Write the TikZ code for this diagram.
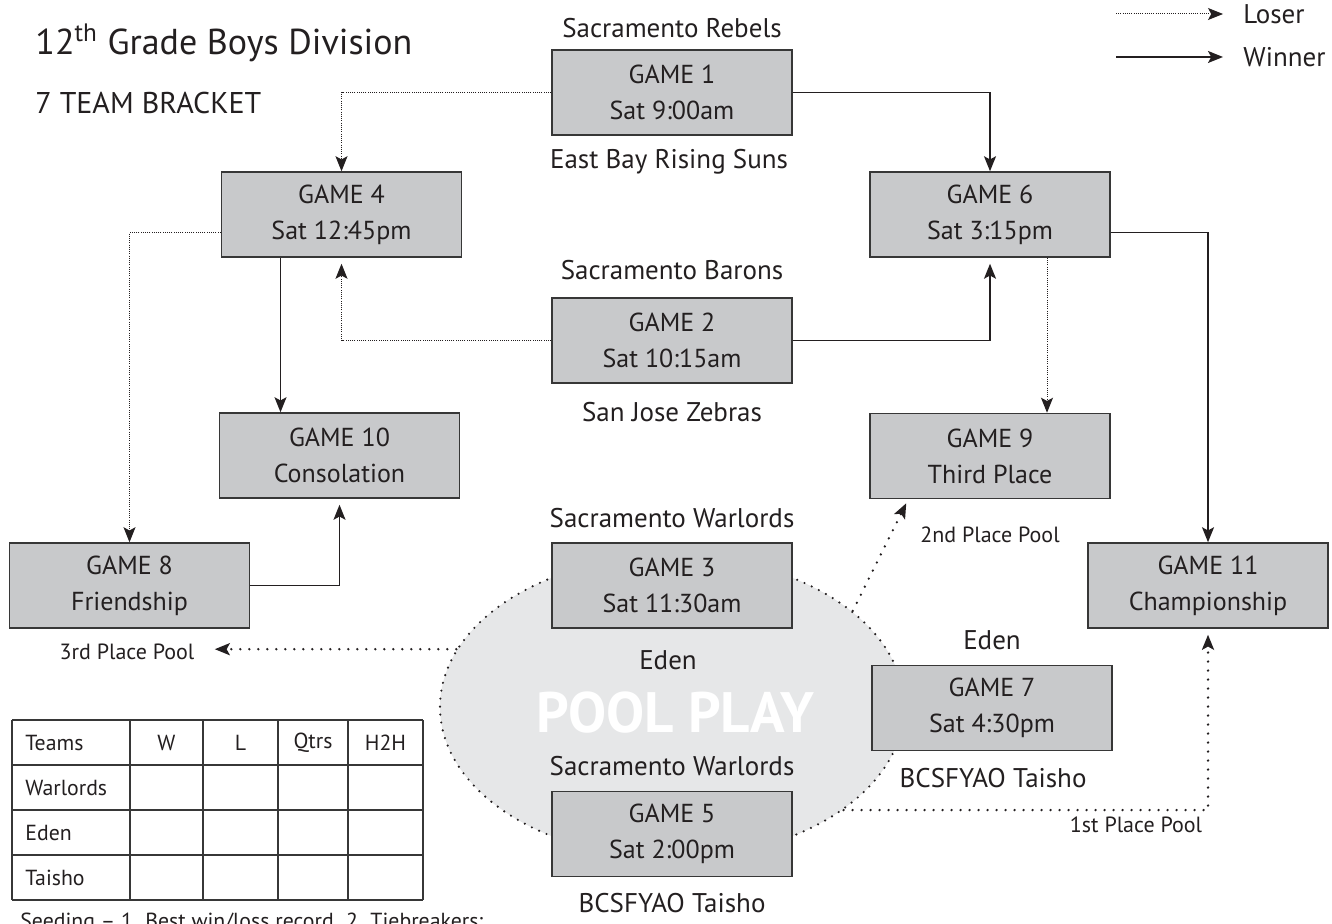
\documentclass[tikz,border=0pt]{standalone}
\usepackage{fontspec}
\setmainfont{PT Sans}
\usetikzlibrary{shapes,arrows.meta,calc}

\definecolor{ink}{RGB}{35,31,32}
\definecolor{boxfill}{RGB}{200,201,203}
\definecolor{boxline}{RGB}{55,55,55}
\definecolor{poolfill}{RGB}{230,231,232}

\tikzset{
    game/.style={draw=boxline, fill=boxfill, line width=0.75pt, minimum width=120pt,
        minimum height=42.5pt, inner sep=0pt, align=center, text=ink,
        font=\fontsize{13}{18}\selectfont},
    team/.style={inner sep=0pt, text=ink, font=\fontsize{13.5}{16}\selectfont},
    note/.style={inner sep=0pt, text=ink, font=\fontsize{11}{13}\selectfont},
    cell/.style={inner sep=0pt, text=ink, font=\fontsize{10.9}{13}\selectfont},
    tip/.style={-{Stealth[length=7.5pt,width=6pt,inset=1.6pt]}},
    winner/.style={tip, draw=ink, line width=0.75pt},
    loser/.style={tip, draw=ink, line width=0.5pt, dash pattern=on 0.5pt off 0.6pt},
    pooldot/.style={tip, draw=ink, line width=1.3pt, line cap=round, dash pattern=on 0pt off 4.5pt}
}

\begin{document}
\begin{tikzpicture}[x=0.5pt, y=-0.5pt]
    \useasboundingbox (0,0) rectangle (1332,924);
    \clip (0,0) rectangle (1332,924);

    % Pool play area
    \node[ellipse, fill=poolfill, draw=ink, line width=1.2pt, line cap=round,
        dash pattern=on 0pt off 4pt, minimum width=232pt, minimum height=151pt,
        inner sep=0pt] (pool) at (672,707) {};
    \node[text=white, font=\fontsize{28.5}{32}\bfseries] (poolplay) at (675,713) {POOL PLAY};

    % Title
    \node[anchor=west, inner sep=0pt, text=ink, font=\fontsize{18}{22}\selectfont] (title) at (35,43) {12\textsuperscript{th} Grade Boys Division};
    \node[anchor=west, inner sep=0pt, text=ink, font=\fontsize{15}{18}\selectfont] (subtitle) at (35,103) {7 TEAM BRACKET};

    % Legend
    \node[team, anchor=west] (loserlbl) at (1243,14) {Loser};
    \node[team, anchor=west] (winnerlbl) at (1243,57) {Winner};
    \coordinate (lgl) at (1116,14);
    \coordinate (lgw) at (1116,57);
    \draw[loser, shorten >=10pt] (lgl) -- (loserlbl.west);
    \draw[winner, shorten >=10pt] (lgw) -- (winnerlbl.west);

    % Games
    \node[game] (g1) at (672,92.5) {GAME 1\\Sat 9:00am};
    \node[game] (g2) at (672,340.5) {GAME 2\\Sat 10:15am};
    \node[game] (g3) at (672,585.5) {GAME 3\\Sat 11:30am};
    \node[game] (g4) at (341.5,214.5) {GAME 4\\Sat 12:45pm};
    \node[game] (g5) at (672,834) {GAME 5\\Sat 2:00pm};
    \node[game] (g6) at (990,214.5) {GAME 6\\Sat 3:15pm};
    \node[game] (g7) at (992,708) {GAME 7\\Sat 4:30pm};
    \node[game] (g8) at (129.5,585.5) {GAME 8\\Friendship};
    \node[game] (g9) at (990,456) {GAME 9\\Third Place};
    \node[game] (g10) at (339.5,455.5) {GAME 10\\Consolation};
    \node[game] (g11) at (1208,585.5) {GAME 11\\Championship};

    % Teams
    \node[team] (t1a) at (672,28) {Sacramento Rebels};
    \node[team] (t1b) at (669,162) {East Bay Rising Suns};
    \node[team] (t2a) at (672,270) {Sacramento Barons};
    \node[team] (t2b) at (672,412) {San Jose Zebras};
    \node[team] (t3a) at (672,518) {Sacramento Warlords};
    \node[team] (t3b) at (668,660) {Eden};
    \node[team] (t5a) at (672,766) {Sacramento Warlords};
    \node[team] (t5b) at (672,903) {BCSFYAO Taisho};
    \node[team] (t7a) at (992,640) {Eden};
    \node[team] (t7b) at (993,778) {BCSFYAO Taisho};

    % Pool places
    \node[note] (p2) at (990,535) {2nd Place Pool};
    \node[note] (p3) at (127,652) {3rd Place Pool};
    \node[note] (p1) at (1136,825) {1st Place Pool};

    % Bracket lines
    \draw[loser] (g1.west) -| (g4.north);
    \draw[winner] (g1.east) -| (g6.north);
    \draw[loser, shorten >=3pt] (g2.west) -| (g4.south);
    \draw[winner, shorten >=3pt] (g2.east) -| (g6.south);
    \draw[loser] ([yshift=-9pt]g4.west) -| (g8.north);
    \draw[winner] ($(g4.south)+(-61,0)$) coordinate (a4) -- (a4 |- g10.north);
    \draw[winner, shorten >=3pt] (g8.east) -| (g10.south);
    \draw[loser] ($(g6.south)+(57,0)$) coordinate (a6) -- (a6 |- g9.north);
    \draw[winner] ([yshift=-9pt]g6.east) -| (g11.north);

    % Out of the pool
    \draw[pooldot] (pool.28.6) -- ([xshift=18.5pt,yshift=-2pt]g9.south west);
    \draw[pooldot, shorten >=10pt] (pool.165.8) -- (pool.165.8 -| p3.east);
    \draw[pooldot, shorten >=3pt] (pool.-31.2) -| (g11.south);

    % Standings table
    \foreach \x in {12,130,203,278,348,423}
        \draw[boxline, line width=0.6pt] (\x,720) -- (\x,900);
    \foreach \y in {720,765,810,855,900}
        \draw[boxline, line width=0.6pt] (12,\y) -- (423,\y);
    \node[cell, anchor=west] (hteams) at (25,742.5) {Teams};
    \node[cell] (hw) at (166.5,742.5) {W};
    \node[cell] (hl) at (240.5,742.5) {L};
    \node[cell] (hq) at (313,742.5) {Qtrs};
    \node[cell] (hh) at (385.5,742.5) {H2H};
    \node[cell, anchor=west] (rwar) at (25,787.5) {Warlords};
    \node[cell, anchor=west] (reden) at (25,832.5) {Eden};
    \node[cell, anchor=west] (rtai) at (25,877.5) {Taisho};

    % Seeding note
    \node[cell, anchor=base west] (seed) at (20,928) {Seeding -- 1. Best win/loss record. 2. Tiebreakers:};
\end{tikzpicture}
\end{document}
